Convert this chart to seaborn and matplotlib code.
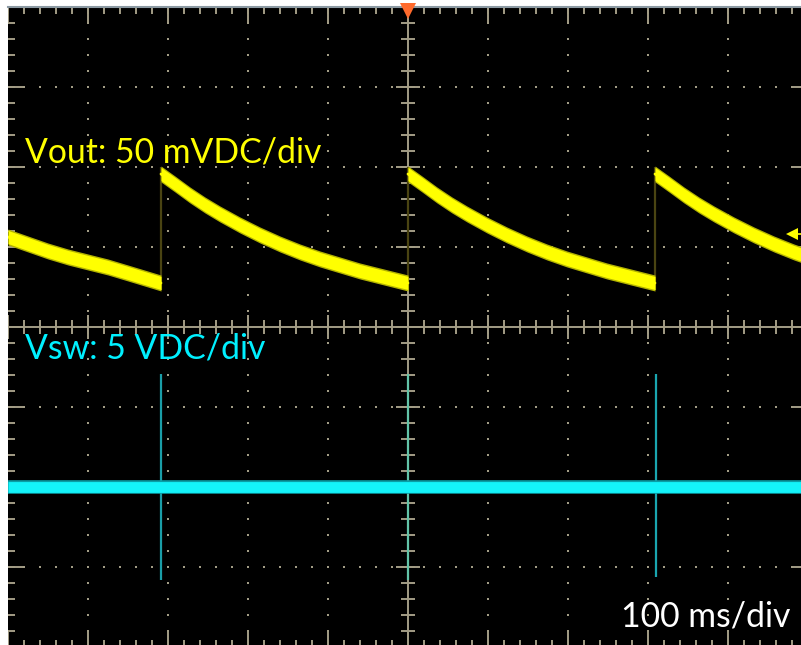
import numpy as np
import pandas as pd
import seaborn as sns
import matplotlib.pyplot as plt

# Estilo osciloscopio
sns.set_theme(style="dark", rc={"axes.facecolor": "black", "figure.facecolor": "white",
                                "axes.grid": False})
plt.rcParams["font.family"] = ["Lato", "DejaVu Sans"]

COLORS = {
    "ch1": "#ffff00",
    "ch1_edge": "#b4b400",
    "ch1_jump": "#4a4412",
    "ch2": "#14f4fa",
    "ch2_edge": "#0a9ea6",
    "grat": "#a39d86",
    "trig": "#ff6a2c",
}

seg1_t = [0.0, 0.25, 0.5, 0.75, 1.0, 1.25, 1.5, 1.9125]
seg1_v = [1.125, 1.0375, 0.95, 0.875, 0.8125, 0.75, 0.675, 0.55]
seg2_t = [1.9125, 2.0875, 2.275, 2.4625, 2.65, 2.9, 3.15, 3.4, 3.65, 3.9, 4.15, 4.4, 4.65, 5.0]
seg2_v = [1.9125, 1.7875, 1.65, 1.525, 1.4125, 1.275, 1.15, 1.0375, 0.9375, 0.85, 0.775, 0.7, 0.6375, 0.55]
seg3_t = [5.0, 5.175, 5.3625, 5.55, 5.7375, 5.9875, 6.2375, 6.4875, 6.7375, 6.9875, 7.2375, 7.4875, 7.7375, 8.0875]
seg3_v = [1.9125, 1.7875, 1.65, 1.525, 1.4125, 1.275, 1.15, 1.0375, 0.9375, 0.85, 0.775, 0.7, 0.6375, 0.55]
seg4_t = [8.0875, 8.2625, 8.45, 8.6375, 8.825, 9.075, 9.325, 9.575, 9.825, 10.075]
seg4_v = [1.9125, 1.7875, 1.65, 1.525, 1.4125, 1.275, 1.15, 1.0375, 0.9375, 0.85]

jump_t = [1.9125, 5.0, 8.0875]
jump_lo = [0.46, 0.46, 0.46]
jump_hi = [2.0, 2.0, 2.0]

vsw_t = [0.0, 1.9125, 5.0, 8.0875, 10.0]
vsw_v = [-2.0, -2.0, -2.0, -2.0, -2.0]

spike_t = [1.9125, 5.0, 8.1]
spike_top = [-0.5875, -0.5875, -0.5875]
spike_bot = [-3.1625, -3.1625, -3.125]
spike_colors = ["#1a9ea8", "#62c4a8", "#1aa6b0"]

ch1_ref = 1.1625

segs = [(seg1_t, seg1_v), (seg2_t, seg2_v), (seg3_t, seg3_v), (seg4_t, seg4_v)]
vout = pd.concat([pd.DataFrame({"t": t, "v": v, "seg": i}) for i, (t, v) in enumerate(segs)],
                 ignore_index=True)
vsw = pd.DataFrame({"t": vsw_t, "v": vsw_v})

fig = plt.figure(figsize=(8.01, 6.45), dpi=100)
ax = fig.add_axes([8 / 801, -2 / 645, 800 / 801, 640 / 645])
ax.set_xlim(0, 10)
ax.set_ylim(-4, 4)
ax.set_xticks([])
ax.set_yticks([])
for s in ["left", "right", "bottom"]:
    ax.spines[s].set_visible(False)
ax.spines["top"].set_color("#8c9aa3")
ax.spines["top"].set_linewidth(1.5)

# Reticula
g = COLORS["grat"]
xm = np.arange(0, 10.001, 0.2)
ym = np.arange(-4, 4.001, 0.2)
for xv in [1, 2, 3, 4, 6, 7, 8, 9]:
    ax.plot(np.full(len(ym), xv), ym, ls="none", marker="s", ms=1.5, mew=0, color=g, zorder=1)
for yv in [-3, -2, -1, 1, 2, 3]:
    ax.plot(xm, np.full(len(xm), yv), ls="none", marker="s", ms=1.5, mew=0, color=g, zorder=1)

ax.axhline(0, color=g, lw=1.4, zorder=1)
ax.axvline(5, color=g, lw=1.4, zorder=1)
xmaj = np.arange(0, 11, 1)
ymaj = np.arange(-4, 5, 1)
ax.vlines(xm, -0.0875, 0.0875, color=g, lw=1.4, zorder=1)
ax.vlines(xmaj, -0.15, 0.15, color=g, lw=1.4, zorder=1)
ax.hlines(ym, 4.9125, 5.0875, color=g, lw=1.4, zorder=1)
ax.hlines(ymaj, 4.85, 5.15, color=g, lw=1.4, zorder=1)
# bordes
ax.vlines(xm, 4 - 0.0875, 4, color=g, lw=1.4, zorder=1)
ax.vlines(xmaj, 4 - 0.21, 4, color=g, lw=1.4, zorder=1)
ax.vlines(xm, -4, -4 + 0.0875, color=g, lw=1.4, zorder=1)
ax.vlines(xmaj, -4, -4 + 0.21, color=g, lw=1.4, zorder=1)
ax.hlines(ym, 0, 0.0875, color=g, lw=1.4, zorder=1)
ax.hlines(ymaj, 0, 0.2, color=g, lw=1.4, zorder=1)
ax.hlines(ym, 10 - 0.0875, 10, color=g, lw=1.4, zorder=1)
ax.hlines(ymaj, 10 - 0.2, 10, color=g, lw=1.4, zorder=1)

# Vsw
ax.vlines(spike_t, spike_bot, spike_top, colors=spike_colors, lw=1.6, zorder=2)
sns.lineplot(data=vsw, x="t", y="v", ax=ax, color=COLORS["ch2_edge"], linewidth=9.8,
             solid_capstyle="butt", zorder=3)
sns.lineplot(data=vsw, x="t", y="v", ax=ax, color=COLORS["ch2"], linewidth=7.8,
             solid_capstyle="butt", zorder=4)

# Vout (banda de traza con grosor vertical constante)
ax.vlines(jump_t, jump_lo, jump_hi, color=COLORS["ch1_jump"], lw=1.6, zorder=2)
for _, d in vout.groupby("seg"):
    ax.fill_between(d["t"], d["v"] - 0.1, d["v"] + 0.1, color=COLORS["ch1_edge"],
                    lw=0, zorder=3)
    ax.fill_between(d["t"], d["v"] - 0.082, d["v"] + 0.082, color=COLORS["ch1"],
                    lw=0, zorder=4)
sns.lineplot(data=vout, x="t", y="v", units="seg", estimator=None, sort=False, ax=ax,
             color=COLORS["ch1"], linewidth=2, zorder=5)
ax.set_xlabel("")
ax.set_ylabel("")

# Marcadores
ax.plot([5], [4 - 0.05], marker="v", ms=11, color=COLORS["trig"], mew=0, zorder=6, clip_on=False)
ax.plot([9.83, 10], [ch1_ref, ch1_ref], color=COLORS["ch1"], lw=1.2, zorder=6)
ax.plot([9.8], [ch1_ref], marker="<", ms=8, color=COLORS["ch1"], mew=0, zorder=6)

# Textos
ax.text(0.2125, 2.0625, "Vout: 50 mVDC/div", color="#ffff00", fontsize=24.3,
        ha="left", va="baseline", zorder=7)
ax.text(0.2125, -0.3875, "Vsw: 5 VDC/div", color="#00f0ff", fontsize=24.3,
        ha="left", va="baseline", zorder=7)
ax.text(9.775, -3.75, "100 ms/div", color="white", fontsize=24.3,
        ha="right", va="baseline", zorder=7)

fig.savefig("out.png", dpi=100)
